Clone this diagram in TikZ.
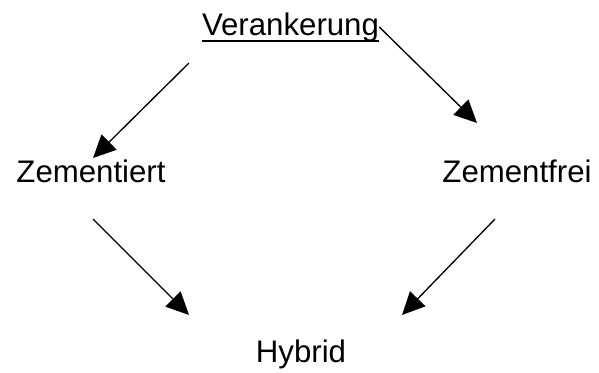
\documentclass[tikz,border=0pt]{standalone}
\usepackage{fontspec}
\setmainfont{Liberation Sans}
\usetikzlibrary{arrows.meta}
\tikzset{
  lbl/.style={inner sep=0pt, anchor=base, font=\fontsize{23.4}{28}\selectfont},
  arrow/.style={-{Triangle[length=17pt,width=16pt]}, line width=1pt},
}

\begin{document}
\begin{tikzpicture}[x=0.75pt,y=-0.75pt]
  \useasboundingbox (0,0) rectangle (599,372);

  % labels
  \node[lbl] (ver) at (290.5,35) {Verankerung};
  \node[lbl] (zi) at (91,182) {Zementiert};
  \node[lbl] (zf) at (517,182) {Zementfrei};
  \node[lbl] (hyb) at (301,362) {Hybrid};
  \draw[line width=1.8pt] ([yshift=-4.5pt]ver.base west) -- ([yshift=-4.5pt]ver.base east);

  % arrow ends
  \coordinate (verL) at (189,63);
  \coordinate (ziT) at (93,158);
  \coordinate (zfT) at (477,123);
  \coordinate (ziB) at (93,219);
  \coordinate (zfB) at (495,219);
  \coordinate (hybL) at (189,315);
  \coordinate (hybR) at (402,315);

  \draw[arrow] (verL) -- (ziT);
  \draw[arrow] (ver.east) -- (zfT);
  \draw[arrow] (ziB) -- (hybL);
  \draw[arrow] (zfB) -- (hybR);

\end{tikzpicture}
\end{document}
